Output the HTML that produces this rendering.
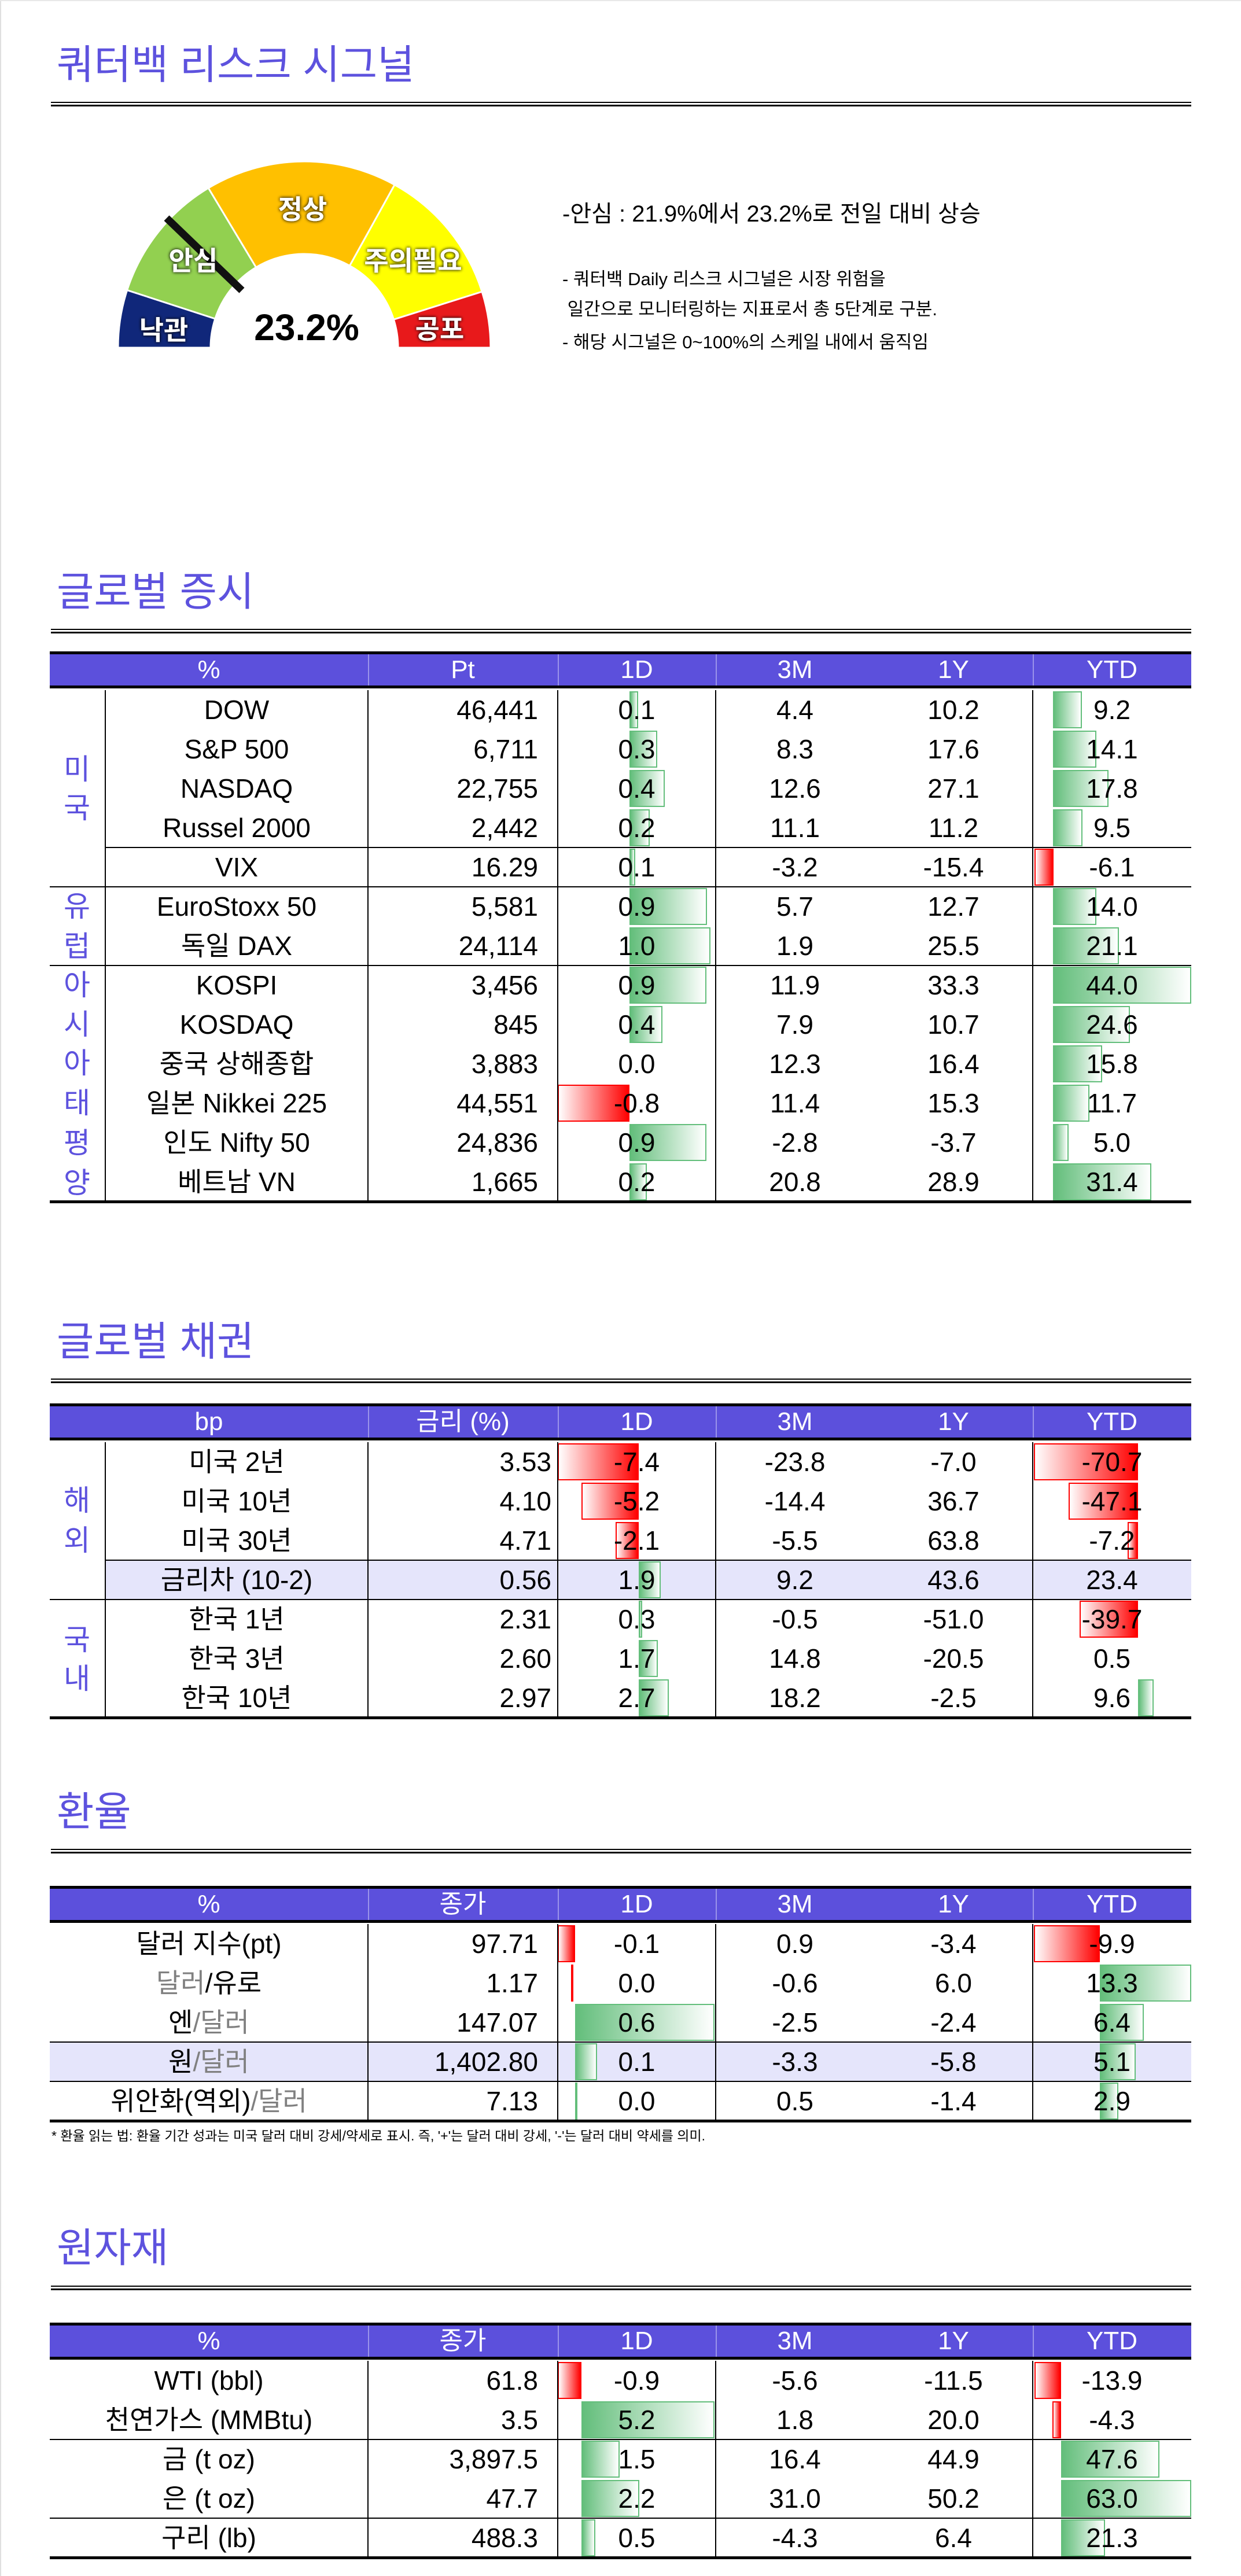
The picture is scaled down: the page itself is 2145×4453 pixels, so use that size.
<!DOCTYPE html>
<html><head><meta charset="utf-8">
<style>
*{margin:0;padding:0;box-sizing:border-box}
body{width:2145px;height:4453px;background:#fff;position:relative;overflow:hidden;font-family:"Liberation Sans","Noto Sans CJK KR",sans-serif;color:#000}
.a{position:absolute}
.tt{position:absolute;left:98px;font-size:70px;color:#5D52DE;line-height:80px;font-family:"Liberation Sans","Noto Sans CJK KR",sans-serif}
.dl{position:absolute;left:88px;width:1971px;height:8px;border-top:2px solid #000;border-bottom:3px solid #000}
.hd{position:absolute;left:86px;width:1973px;height:64px;background:#5C50DC;border-top:5px solid #000;border-bottom:5px solid #000;color:#fff;font-size:44px}
.hd div{position:absolute;top:0;height:54px;line-height:54px;text-align:center}
.hv{position:absolute;top:0;width:2px;height:54px;background:#9a93ea}
.r{position:absolute;left:0;width:2145px;height:68px;font-size:46px;line-height:68px}
.r>div{position:absolute;top:0;height:68px}
.n{left:182px;width:454px;text-align:center}
.n2{left:86px;width:550px;text-align:center}
.p{left:636px;width:294px;text-align:right}
.pb{left:636px;width:317px;text-align:right}
.d{left:964px;width:273px;text-align:center}
.m{left:1237px;width:274px;text-align:center}
.y{left:1511px;width:274px;text-align:center}
.z{left:1785px;width:274px;text-align:center}
.r>div.g{top:2px;height:64px;background:linear-gradient(to right,#63BE7B,#fff);border:2px solid #63BE7B}
.r>div.rd{top:2px;height:64px;background:linear-gradient(to left,#FF0000,#fff);border:2px solid #FF0000}
.vl{position:absolute;width:2px;background:#000}
.hl{position:absolute;height:2px;background:#000}
.bl{position:absolute;left:86px;width:1973px;height:5px;background:#000}
.rg{position:absolute;left:103px;width:60px;text-align:center;font-size:50px;color:#5D52DE;line-height:60px}
.hi{position:absolute;height:68px;background:#E5E5FB}
.gr{color:#808080}
</style></head><body>
<div class="a" style="left:0;top:0;width:2px;height:4453px;background:#e0e0e0"></div>
<div class="a" style="left:0;top:0;width:2145px;height:2px;background:#e8e8e8"></div>

<div class="tt" style="top:72px">쿼터백 리스크 시그널</div>
<div class="dl" style="top:176px"></div>

<svg class="a" style="left:0;top:0" width="900" height="640" viewBox="0 0 900 640">
<defs><filter id="sh" x="-20%" y="-20%" width="140%" height="140%"><feGaussianBlur in="SourceAlpha" stdDeviation="3"/><feOffset dx="0" dy="0"/><feComponentTransfer><feFuncA type="linear" slope="1.2"/></feComponentTransfer><feMerge><feMergeNode/><feMergeNode in="SourceGraphic"/></feMerge></filter></defs>
<g stroke="#fff" stroke-width="3">
<path d="M204,601 A322,322 0 0 1 219.7,501.5 L371.9,551 A162,162 0 0 0 364,601 Z" fill="#10277A"/>
<path d="M219.7,501.5 A322,322 0 0 1 360.2,325 L442.6,462.1 A162,162 0 0 0 371.9,551 Z" fill="#92D050"/>
<path d="M360.2,325 A322,322 0 0 1 682.1,319.4 L604.5,459.3 A162,162 0 0 0 442.6,462.1 Z" fill="#FFC000"/>
<path d="M682.1,319.4 A322,322 0 0 1 833.1,504.2 L680.5,552.3 A162,162 0 0 0 604.5,459.3 Z" fill="#FFFF00"/>
<path d="M833.1,504.2 A322,322 0 0 1 848,601 L688,601 A162,162 0 0 0 680.5,552.3 Z" fill="#E8191B"/>
</g>
<line x1="288" y1="377" x2="418" y2="502" stroke="#111" stroke-width="13"/>
<g font-family="Liberation Sans, Noto Sans CJK KR, sans-serif" font-weight="bold" fill="#fff" text-anchor="middle" filter="url(#sh)" font-size="46">
<text x="523" y="378">정상</text>
<text x="334" y="467">안심</text>
<text x="714" y="467">주의필요</text>
<text x="283" y="587">낙관</text>
<text x="760" y="585">공포</text>
</g>
<text x="530" y="588" font-family="Liberation Sans, sans-serif" font-weight="bold" font-size="64" text-anchor="middle" fill="#000">23.2%</text>
</svg>

<div class="a" style="left:972px;top:345px;font-size:40px;line-height:50px;white-space:nowrap">-안심 : 21.9%에서 23.2%로 전일 대비 상승</div>
<div class="a" style="left:972px;top:463px;font-size:31px;line-height:40px;white-space:nowrap">- 쿼터백 Daily 리스크 시그널은 시장 위험을</div>
<div class="a" style="left:972px;top:515px;font-size:31px;line-height:40px;white-space:pre"> 일간으로 모니터링하는 지표로서 총 5단계로 구분.</div>
<div class="a" style="left:972px;top:572px;font-size:31px;line-height:40px;white-space:nowrap">- 해당 시그널은 0~100%의 스케일 내에서 움직임</div>

<!-- ================= 글로벌 증시 ================= -->
<div class="tt" style="top:983px">글로벌 증시</div>
<div class="dl" style="top:1087px"></div>
<div class="hd" style="top:1126px">
<div style="left:0;width:550px">%</div><div style="left:550px;width:328px">Pt</div><div style="left:878px;width:273px">1D</div><div style="left:1151px;width:274px">3M</div><div style="left:1425px;width:274px">1Y</div><div style="left:1699px;width:274px">YTD</div>
<span class="hv" style="left:550px"></span><span class="hv" style="left:878px"></span><span class="hv" style="left:1151px"></span><span class="hv" style="left:1699px"></span>
</div>

<div class="r" style="top:1193px"><div class="g" style="left:1088px;width:15px"></div><div class="g" style="left:1820px;width:50px"></div><div class="n">DOW</div><div class="p">46,441</div><div class="d">0.1</div><div class="m">4.4</div><div class="y">10.2</div><div class="z">9.2</div></div>
<div class="r" style="top:1261px"><div class="g" style="left:1088px;width:48px"></div><div class="g" style="left:1820px;width:75px"></div><div class="n">S&amp;P 500</div><div class="p">6,711</div><div class="d">0.3</div><div class="m">8.3</div><div class="y">17.6</div><div class="z">14.1</div></div>
<div class="r" style="top:1329px"><div class="g" style="left:1088px;width:61px"></div><div class="g" style="left:1820px;width:96px"></div><div class="n">NASDAQ</div><div class="p">22,755</div><div class="d">0.4</div><div class="m">12.6</div><div class="y">27.1</div><div class="z">17.8</div></div>
<div class="r" style="top:1397px"><div class="g" style="left:1088px;width:35px"></div><div class="g" style="left:1820px;width:51px"></div><div class="n">Russel 2000</div><div class="p">2,442</div><div class="d">0.2</div><div class="m">11.1</div><div class="y">11.2</div><div class="z">9.5</div></div>
<div class="r" style="top:1465px"><div class="g" style="left:1088px;width:10px"></div><div class="rd" style="left:1788px;width:33px"></div><div class="n">VIX</div><div class="p">16.29</div><div class="d">0.1</div><div class="m">-3.2</div><div class="y">-15.4</div><div class="z">-6.1</div></div>
<div class="r" style="top:1533px"><div class="g" style="left:1088px;width:134px"></div><div class="g" style="left:1820px;width:75px"></div><div class="n">EuroStoxx 50</div><div class="p">5,581</div><div class="d">0.9</div><div class="m">5.7</div><div class="y">12.7</div><div class="z">14.0</div></div>
<div class="r" style="top:1601px"><div class="g" style="left:1088px;width:140px"></div><div class="g" style="left:1820px;width:114px"></div><div class="n">독일 DAX</div><div class="p">24,114</div><div class="d">1.0</div><div class="m">1.9</div><div class="y">25.5</div><div class="z">21.1</div></div>
<div class="r" style="top:1669px"><div class="g" style="left:1088px;width:133px"></div><div class="g" style="left:1820px;width:239px"></div><div class="n">KOSPI</div><div class="p">3,456</div><div class="d">0.9</div><div class="m">11.9</div><div class="y">33.3</div><div class="z">44.0</div></div>
<div class="r" style="top:1737px"><div class="g" style="left:1088px;width:57px"></div><div class="g" style="left:1820px;width:133px"></div><div class="n">KOSDAQ</div><div class="p">845</div><div class="d">0.4</div><div class="m">7.9</div><div class="y">10.7</div><div class="z">24.6</div></div>
<div class="r" style="top:1805px"><div class="g" style="left:1820px;width:85px"></div><div class="n">중국 상해종합</div><div class="p">3,883</div><div class="d">0.0</div><div class="m">12.3</div><div class="y">16.4</div><div class="z">15.8</div></div>
<div class="r" style="top:1873px"><div class="rd" style="left:964px;width:124px"></div><div class="g" style="left:1820px;width:63px"></div><div class="n">일본 Nikkei 225</div><div class="p">44,551</div><div class="d">-0.8</div><div class="m">11.4</div><div class="y">15.3</div><div class="z">11.7</div></div>
<div class="r" style="top:1941px"><div class="g" style="left:1088px;width:133px"></div><div class="g" style="left:1820px;width:27px"></div><div class="n">인도 Nifty 50</div><div class="p">24,836</div><div class="d">0.9</div><div class="m">-2.8</div><div class="y">-3.7</div><div class="z">5.0</div></div>
<div class="r" style="top:2009px"><div class="g" style="left:1088px;width:30px"></div><div class="g" style="left:1820px;width:170px"></div><div class="n">베트남 VN</div><div class="p">1,665</div><div class="d">0.2</div><div class="m">20.8</div><div class="y">28.9</div><div class="z">31.4</div></div>

<div class="rg" style="top:1300px">미</div><div class="rg" style="top:1367px">국</div>
<div class="rg" style="top:1537px">유</div><div class="rg" style="top:1606px">럽</div>
<div class="rg" style="top:1673px">아</div><div class="rg" style="top:1741px">시</div><div class="rg" style="top:1808px">아</div><div class="rg" style="top:1877px">태</div><div class="rg" style="top:1946px">평</div><div class="rg" style="top:2015px">양</div>

<div class="vl" style="left:181px;top:1193px;height:884px"></div>
<div class="vl" style="left:635px;top:1193px;height:884px"></div>
<div class="vl" style="left:963px;top:1193px;height:884px"></div>
<div class="vl" style="left:1236px;top:1193px;height:884px"></div>
<div class="vl" style="left:1784px;top:1193px;height:884px"></div>
<div class="hl" style="left:182px;width:1877px;top:1464px"></div>
<div class="hl" style="left:86px;width:1973px;top:1532px"></div>
<div class="hl" style="left:86px;width:1973px;top:1668px"></div>
<div class="bl" style="top:2075px"></div>

<!-- ================= 글로벌 채권 ================= -->
<div class="tt" style="top:2279px">글로벌 채권</div>
<div class="dl" style="top:2383px"></div>
<div class="hd" style="top:2426px">
<div style="left:0;width:550px">bp</div><div style="left:550px;width:328px">금리 (%)</div><div style="left:878px;width:273px">1D</div><div style="left:1151px;width:274px">3M</div><div style="left:1425px;width:274px">1Y</div><div style="left:1699px;width:274px">YTD</div>
<span class="hv" style="left:550px"></span><span class="hv" style="left:878px"></span><span class="hv" style="left:1151px"></span><span class="hv" style="left:1699px"></span>
</div>
<div class="hi" style="left:182px;width:1877px;top:2697px"></div>

<div class="r" style="top:2493px"><div class="rd" style="left:964px;width:140px"></div><div class="rd" style="left:1787px;width:180px"></div><div class="n">미국 2년</div><div class="pb">3.53</div><div class="d">-7.4</div><div class="m">-23.8</div><div class="y">-7.0</div><div class="z">-70.7</div></div>
<div class="r" style="top:2561px"><div class="rd" style="left:1005px;width:99px"></div><div class="rd" style="left:1847px;width:120px"></div><div class="n">미국 10년</div><div class="pb">4.10</div><div class="d">-5.2</div><div class="m">-14.4</div><div class="y">36.7</div><div class="z">-47.1</div></div>
<div class="r" style="top:2629px"><div class="rd" style="left:1064px;width:40px"></div><div class="rd" style="left:1949px;width:18px"></div><div class="n">미국 30년</div><div class="pb">4.71</div><div class="d">-2.1</div><div class="m">-5.5</div><div class="y">63.8</div><div class="z">-7.2</div></div>
<div class="r" style="top:2697px"><div class="g" style="left:1104px;width:38px"></div><div class="n">금리차 (10-2)</div><div class="pb">0.56</div><div class="d">1.9</div><div class="m">9.2</div><div class="y">43.6</div><div class="z">23.4</div></div>
<div class="r" style="top:2765px"><div class="g" style="left:1104px;width:6px"></div><div class="rd" style="left:1866px;width:101px"></div><div class="n">한국 1년</div><div class="pb">2.31</div><div class="d">0.3</div><div class="m">-0.5</div><div class="y">-51.0</div><div class="z">-39.7</div></div>
<div class="r" style="top:2833px"><div class="g" style="left:1104px;width:33px"></div><div class="n">한국 3년</div><div class="pb">2.60</div><div class="d">1.7</div><div class="m">14.8</div><div class="y">-20.5</div><div class="z">0.5</div></div>
<div class="r" style="top:2901px"><div class="g" style="left:1104px;width:52px"></div><div class="g" style="left:1967px;width:27px"></div><div class="n">한국 10년</div><div class="pb">2.97</div><div class="d">2.7</div><div class="m">18.2</div><div class="y">-2.5</div><div class="z">9.6</div></div>

<div class="rg" style="top:2564px">해</div><div class="rg" style="top:2633px">외</div>
<div class="rg" style="top:2805px">국</div><div class="rg" style="top:2872px">내</div>

<div class="vl" style="left:181px;top:2493px;height:476px"></div>
<div class="vl" style="left:635px;top:2493px;height:476px"></div>
<div class="vl" style="left:963px;top:2493px;height:476px"></div>
<div class="vl" style="left:1236px;top:2493px;height:476px"></div>
<div class="vl" style="left:1784px;top:2493px;height:476px"></div>
<div class="hl" style="left:182px;width:1877px;top:2696px"></div>
<div class="hl" style="left:86px;width:1973px;top:2764px"></div>
<div class="bl" style="top:2967px"></div>

<!-- ================= 환율 ================= -->
<div class="tt" style="top:3092px">환율</div>
<div class="dl" style="top:3196px"></div>
<div class="hd" style="top:3260px">
<div style="left:0;width:550px">%</div><div style="left:550px;width:328px">종가</div><div style="left:878px;width:273px">1D</div><div style="left:1151px;width:274px">3M</div><div style="left:1425px;width:274px">1Y</div><div style="left:1699px;width:274px">YTD</div>
<span class="hv" style="left:550px"></span><span class="hv" style="left:878px"></span><span class="hv" style="left:1151px"></span><span class="hv" style="left:1699px"></span>
</div>
<div class="hi" style="left:86px;width:1973px;top:3530px"></div>

<div class="r" style="top:3326px"><div class="rd" style="left:964px;width:30px"></div><div class="rd" style="left:1787px;width:114px"></div><div class="n2">달러 지수(pt)</div><div class="p">97.71</div><div class="d">-0.1</div><div class="m">0.9</div><div class="y">-3.4</div><div class="z">-9.9</div></div>
<div class="r" style="top:3394px"><div class="rd" style="left:987px;width:4px"></div><div class="g" style="left:1901px;width:158px"></div><div class="n2"><span class="gr">달러</span>/유로</div><div class="p">1.17</div><div class="d">0.0</div><div class="m">-0.6</div><div class="y">6.0</div><div class="z">13.3</div></div>
<div class="r" style="top:3462px"><div class="g" style="left:994px;width:241px"></div><div class="g" style="left:1901px;width:76px"></div><div class="n2">엔<span class="gr">/달러</span></div><div class="p">147.07</div><div class="d">0.6</div><div class="m">-2.5</div><div class="y">-2.4</div><div class="z">6.4</div></div>
<div class="r" style="top:3530px"><div class="g" style="left:994px;width:38px"></div><div class="g" style="left:1901px;width:62px"></div><div class="n2">원<span class="gr">/달러</span></div><div class="p">1,402.80</div><div class="d">0.1</div><div class="m">-3.3</div><div class="y">-5.8</div><div class="z">5.1</div></div>
<div class="r" style="top:3598px"><div class="g" style="left:994px;width:3px"></div><div class="g" style="left:1901px;width:32px"></div><div class="n2">위안화(역외)<span class="gr">/달러</span></div><div class="p">7.13</div><div class="d">0.0</div><div class="m">0.5</div><div class="y">-1.4</div><div class="z">2.9</div></div>

<div class="vl" style="left:635px;top:3326px;height:340px"></div>
<div class="vl" style="left:963px;top:3326px;height:340px"></div>
<div class="vl" style="left:1236px;top:3326px;height:340px"></div>
<div class="vl" style="left:1784px;top:3326px;height:340px"></div>
<div class="hl" style="left:86px;width:1973px;top:3529px"></div>
<div class="hl" style="left:86px;width:1973px;top:3597px"></div>
<div class="bl" style="top:3664px"></div>
<div class="a" style="left:89px;top:3676px;font-size:23px;line-height:32px;white-space:nowrap">* 환율 읽는 법: 환율 기간 성과는 미국 달러 대비 강세/약세로 표시. 즉, '+'는 달러 대비 강세, '-'는 달러 대비 약세를 의미.</div>

<!-- ================= 원자재 ================= -->
<div class="tt" style="top:3846px">원자재</div>
<div class="dl" style="top:3951px"></div>
<div class="hd" style="top:4015px">
<div style="left:0;width:550px">%</div><div style="left:550px;width:328px">종가</div><div style="left:878px;width:273px">1D</div><div style="left:1151px;width:274px">3M</div><div style="left:1425px;width:274px">1Y</div><div style="left:1699px;width:274px">YTD</div>
<span class="hv" style="left:550px"></span><span class="hv" style="left:878px"></span><span class="hv" style="left:1151px"></span><span class="hv" style="left:1699px"></span>
</div>

<div class="r" style="top:4081px"><div class="rd" style="left:964px;width:41px"></div><div class="rd" style="left:1788px;width:46px"></div><div class="n2">WTI (bbl)</div><div class="p">61.8</div><div class="d">-0.9</div><div class="m">-5.6</div><div class="y">-11.5</div><div class="z">-13.9</div></div>
<div class="r" style="top:4149px"><div class="g" style="left:1005px;width:230px"></div><div class="rd" style="left:1819px;width:15px"></div><div class="n2">천연가스 (MMBtu)</div><div class="p">3.5</div><div class="d">5.2</div><div class="m">1.8</div><div class="y">20.0</div><div class="z">-4.3</div></div>
<div class="r" style="top:4217px"><div class="g" style="left:1005px;width:66px"></div><div class="g" style="left:1834px;width:170px"></div><div class="n2">금 (t oz)</div><div class="p">3,897.5</div><div class="d">1.5</div><div class="m">16.4</div><div class="y">44.9</div><div class="z">47.6</div></div>
<div class="r" style="top:4285px"><div class="g" style="left:1005px;width:100px"></div><div class="g" style="left:1834px;width:225px"></div><div class="n2">은 (t oz)</div><div class="p">47.7</div><div class="d">2.2</div><div class="m">31.0</div><div class="y">50.2</div><div class="z">63.0</div></div>
<div class="r" style="top:4353px"><div class="g" style="left:1005px;width:24px"></div><div class="g" style="left:1834px;width:76px"></div><div class="n2">구리 (lb)</div><div class="p">488.3</div><div class="d">0.5</div><div class="m">-4.3</div><div class="y">6.4</div><div class="z">21.3</div></div>

<div class="vl" style="left:635px;top:4081px;height:340px"></div>
<div class="vl" style="left:963px;top:4081px;height:340px"></div>
<div class="vl" style="left:1236px;top:4081px;height:340px"></div>
<div class="vl" style="left:1784px;top:4081px;height:340px"></div>
<div class="hl" style="left:86px;width:1973px;top:4216px"></div>
<div class="hl" style="left:86px;width:1973px;top:4352px"></div>
<div class="bl" style="top:4419px"></div>
</body></html>
